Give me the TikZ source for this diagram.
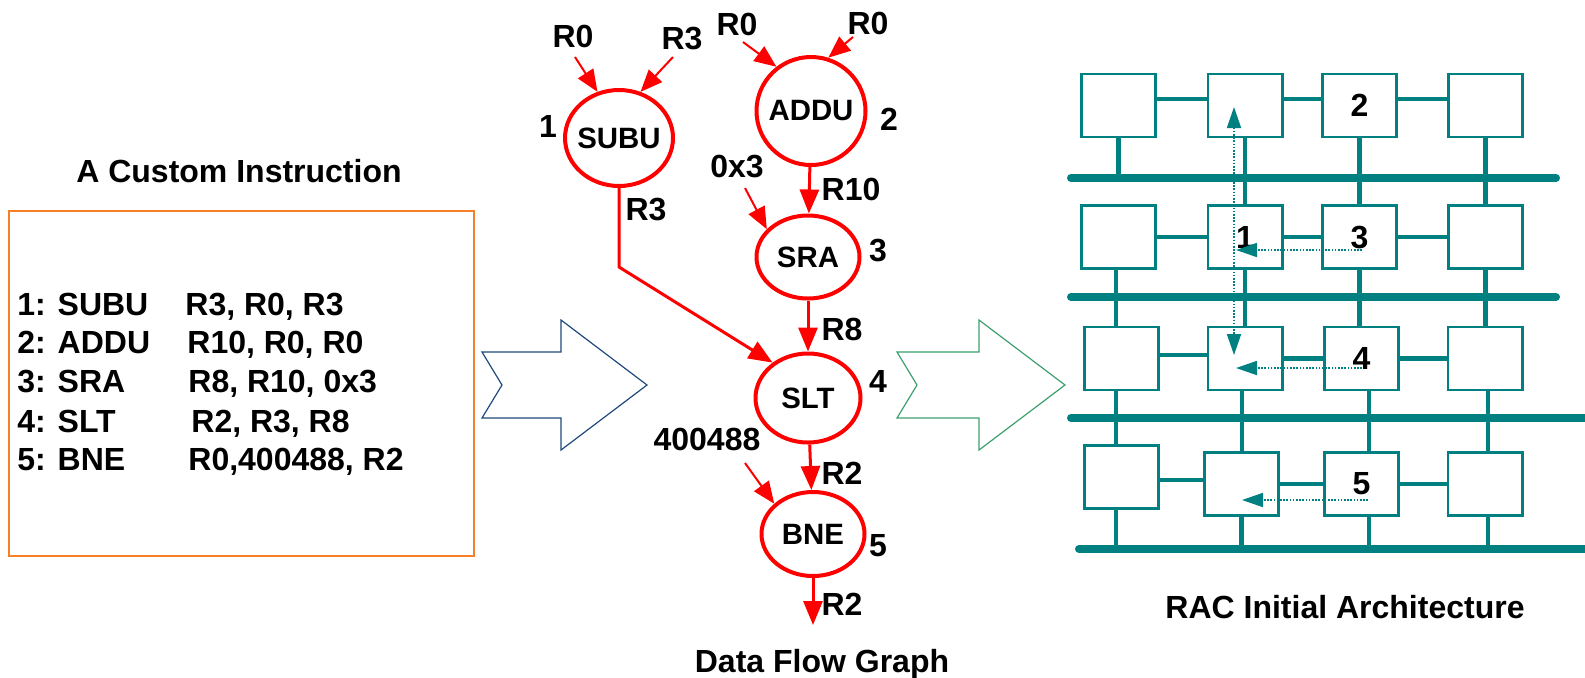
\documentclass[tikz,border=0pt]{standalone}
\usepackage{fontspec}
\setmainfont{Liberation Sans}
\usetikzlibrary{arrows.meta,shapes.geometric}
\definecolor{flowred}{RGB}{255,0,0}
\definecolor{rac}{RGB}{0,128,128}
\definecolor{boxorange}{RGB}{245,128,40}
\definecolor{arrowblue}{RGB}{31,73,125}
\definecolor{arrowgreen}{RGB}{60,160,110}

\begin{document}
\begin{tikzpicture}[x=0.5pt,y=-0.5pt,
  lbl/.style={font=\fontsize{16}{19}\selectfont\bfseries, inner sep=0pt},
  op/.style={ellipse, draw=flowred, line width=2pt, inner sep=0pt,
    font=\fontsize{14.7}{17}\selectfont\bfseries},
  feed/.style={draw=flowred, line width=1pt, -{Triangle[length=11pt,width=9pt]}},
  flow/.style={draw=flowred, line width=1.5pt, -{Triangle[length=12pt,width=9.5pt]}},
  pe/.style={draw=rac, fill=white, line width=1.3pt, minimum width=37.2pt,
    minimum height=31.5pt, inner sep=0pt, font=\fontsize{16}{19}\selectfont\bfseries},
  link/.style={draw=rac, line width=2.2pt},
  bus/.style={draw=rac, line width=4pt, line cap=round},
  route/.style={draw=rac, line width=0.9pt, dash pattern=on 0.8pt off 0.8pt,
    -{Triangle[length=10.5pt,width=7pt]}},
  bigarrow/.style={line width=0.6pt, line join=miter}
]
\useasboundingbox (0,0) rectangle (1585,677);
\clip (0,0) rectangle (1585,677);

% ---------- instruction listing ----------
\node[lbl, anchor=base] (ttl1) at (239,182) {A Custom Instruction};
\node[draw=boxorange, line width=1pt, minimum width=232.5pt, minimum height=172.5pt,
  inner sep=0pt] (insbox) at (241.5,383.5) {};
\node[lbl, anchor=base west] (op1) at (17,315) {1: SUBU};
\node[lbl, anchor=base west] (arg1) at (185,315) {R3, R0, R3};
\node[lbl, anchor=base west] (op2) at (17,353) {2: ADDU};
\node[lbl, anchor=base west] (arg2) at (187,353) {R10, R0, R0};
\node[lbl, anchor=base west] (op3) at (17,392) {3: SRA};
\node[lbl, anchor=base west] (arg3) at (188,392) {R8, R10, 0x3};
\node[lbl, anchor=base west] (op4) at (17,432) {4: SLT};
\node[lbl, anchor=base west] (arg4) at (191,432) {R2, R3, R8};
\node[lbl, anchor=base west] (op5) at (17,470) {5: BNE};
\node[lbl, anchor=base west] (arg5) at (188,470) {R0,400488, R2};

% ---------- block arrows ----------
\draw[arrowblue, bigarrow] (482,352) -- (561,352) -- (561,320) -- (647,385) -- (561,450)
  -- (561,418) -- (482,418) -- (502,385) -- cycle;
\draw[arrowgreen, bigarrow] (897,352) -- (979,352) -- (979,320) -- (1065,385) -- (979,450)
  -- (979,418) -- (897,418) -- (917,385) -- cycle;

% ---------- data flow graph ----------
\node[op, minimum width=54pt, minimum height=48pt] (subu) at (619,138) {\makebox[0pt]{SUBU}};
\node[op, minimum width=54.5pt, minimum height=54pt] (addu) at (811,111) {\makebox[0pt]{ADDU}};
\node[op, minimum width=51.5pt, minimum height=41.5pt] (sra) at (808,257) {\makebox[0pt]{SRA}};
\node[op, minimum width=52.5pt, minimum height=44.5pt] (slt) at (808,398) {\makebox[0pt]{SLT}};
\node[op, minimum width=51.5pt, minimum height=42pt] (bne) at (813,534) {\makebox[0pt]{BNE}};

\node[lbl] (n1) at (548,126) {1};
\node[lbl] (n2) at (889,119) {2};
\node[lbl] (n3) at (878,250) {3};
\node[lbl] (n4) at (878,381) {4};
\node[lbl] (n5) at (878,546) {5};

\node[lbl] (s1a) at (573,36) {R0};
\node[lbl] (s1b) at (682,38) {R3};
\node[lbl] (s2a) at (737,24) {R0};
\node[lbl] (s2b) at (868,23) {R0};
\node[lbl] (s3) at (737,166) {0x3};
\node[lbl] (s5) at (707,439) {400488};
\node[lbl] (e1) at (646,209) {R3};
\node[lbl] (e2) at (851,189) {R10};
\node[lbl] (e3) at (842,329) {R8};
\node[lbl] (e4) at (842,473) {R2};
\node[lbl] (e5) at (842,604) {R2};
\node[lbl, anchor=base] (ttl2) at (822,672) {Data Flow Graph};

\coordinate (in1a) at (575,57);
\coordinate (in1b) at (673,57);
\coordinate (in2a) at (743,42);
\coordinate (in2b) at (853,37);
\coordinate (in3) at (745,188);
\coordinate (in5) at (745,463);
\coordinate (bend) at (619,267);
\coordinate (out) at (813,625);

\draw[feed] (in1a) -- (subu.115);
\draw[feed] (in1b) -- (subu.65);
\draw[feed] (in2a) -- (addu.128);
\draw[feed] (in2b) -- (addu.72);
\draw[feed] (in3) -- (sra.146);
\draw[feed] (in5) -- (bne.142);
\draw[flow] (addu) -- (sra);
\draw[flow] (subu.south) -- (bend) -- (slt.135);
\draw[flow] (sra) -- (slt);
\draw[flow] (slt) -- (bne);
\draw[flow] (bne) -- (out);

% ---------- RAC array ----------
\coordinate (b1w) at (1071,178); \coordinate (b1e) at (1556,178);
\coordinate (b2w) at (1071,297); \coordinate (b2e) at (1556,297);
\coordinate (b3w) at (1071,418); \coordinate (b3e) at (1592,418);
\coordinate (b4w) at (1079,549); \coordinate (b4e) at (1592,549);
\draw[bus] (b1w) -- (b1e);
\draw[bus] (b2w) -- (b2e);
\draw[bus] (b3w) -- (b3e);
\draw[bus] (b4w) -- (b4e);

\node[pe] (r11) at (1118.5,105.5) {};
\node[pe] (r12) at (1245,105.5) {};
\node[pe] (r13) at (1359.5,105.5) {2};
\node[pe] (r14) at (1485.5,105.5) {};
\node[pe] (r21) at (1118.5,237) {};
\node[pe] (r22) at (1245,237) {1};
\node[pe] (r23) at (1359.5,237) {3};
\node[pe] (r24) at (1485.5,237) {};
\node[pe] (r31) at (1121.5,358.5) {};
\node[pe] (r32) at (1245,358.5) {};
\node[pe] (r33) at (1361.5,358.5) {4};
\node[pe] (r34) at (1485,358.5) {};
\node[pe] (r41) at (1121.5,477) {};
\node[pe] (r42) at (1241.5,484) {};
\node[pe] (r43) at (1361.5,484) {5};
\node[pe] (r44) at (1485,484) {};

% horizontal neighbour links
\draw[link] ([yshift=3.25pt]r11.east) -- ([yshift=3.25pt]r12.west);
\draw[link] ([yshift=3.25pt]r12.east) -- ([yshift=3.25pt]r13.west);
\draw[link] ([yshift=3.25pt]r13.east) -- ([yshift=3.25pt]r14.west);
\draw[link] (r21.east) -- (r22.west);
\draw[link] (r22.east) -- (r23.west);
\draw[link] (r23.east) -- (r24.west);
\draw[link] ([yshift=1.75pt]r31.east) -- ([yshift=1.75pt]r31.east -| r32.west);
\draw[link] (r32.east) -- (r33.west);
\draw[link] (r33.east) -- (r34.west);
\draw[link] ([yshift=-1.5pt]r41.east) -- ([yshift=-1.5pt]r41.east -| r42.west);
\draw[link] (r42.east) -- (r43.west);
\draw[link] (r43.east) -- (r44.west);

% vertical links through the buses
\draw[link] (r11.south) -- (r11.south |- b1w);
\draw[link] (r12.south) -- (r22.north);
\draw[link] (r13.south) -- (r23.north);
\draw[link] (r14.south) -- (r24.north);
\draw[link] ([xshift=-1.25pt]r21.south) -- ([xshift=-1.25pt]r21.south |- r31.north);
\draw[link] (r22.south) -- (r32.north);
\draw[link] (r23.south) -- (r23.south |- r33.north);
\draw[link] (r24.south) -- (r24.south |- r34.north);
\draw[link] ([xshift=-2.75pt]r31.south) -- ([xshift=-2.75pt]r31.south |- r41.north);
\draw[link] ([xshift=-1.5pt]r32.south) -- ([xshift=-1.5pt]r32.south |- r42.north);
\draw[link] ([xshift=3.75pt]r33.south) -- ([xshift=3.75pt]r33.south |- r43.north);
\draw[link] ([xshift=1.5pt]r34.south) -- ([xshift=1.5pt]r34.south |- r44.north);
\draw[link] ([xshift=-2.75pt]r41.south) -- ([xshift=-2.75pt]r41.south |- b4w);
\draw[link] (r42.south) -- (r42.south |- b4w);
\draw[link] ([xshift=3.75pt]r43.south) -- ([xshift=3.75pt]r43.south |- b4w);
\draw[link] ([xshift=1.5pt]r44.south) -- ([xshift=1.5pt]r44.south |- b4w);

% mapping routes
\coordinate (v1) at (1234,107);
\coordinate (v2) at (1234,355);
\coordinate (h1a) at (1362,250); \coordinate (h1b) at (1236,250);
\coordinate (h2a) at (1362,368); \coordinate (h2b) at (1236,368);
\coordinate (h3a) at (1368,500); \coordinate (h3b) at (1242,500);
\draw[route, {Triangle[length=10.5pt,width=7pt]}-{Triangle[length=10.5pt,width=7pt]}] (v1) -- (v2);
\draw[route] (h1a) -- (h1b);
\draw[route] (h2a) -- (h2b);
\draw[route] (h3a) -- (h3b);

\node[lbl, anchor=base] (ttl3) at (1345,618) {RAC Initial Architecture};
\end{tikzpicture}
\end{document}
